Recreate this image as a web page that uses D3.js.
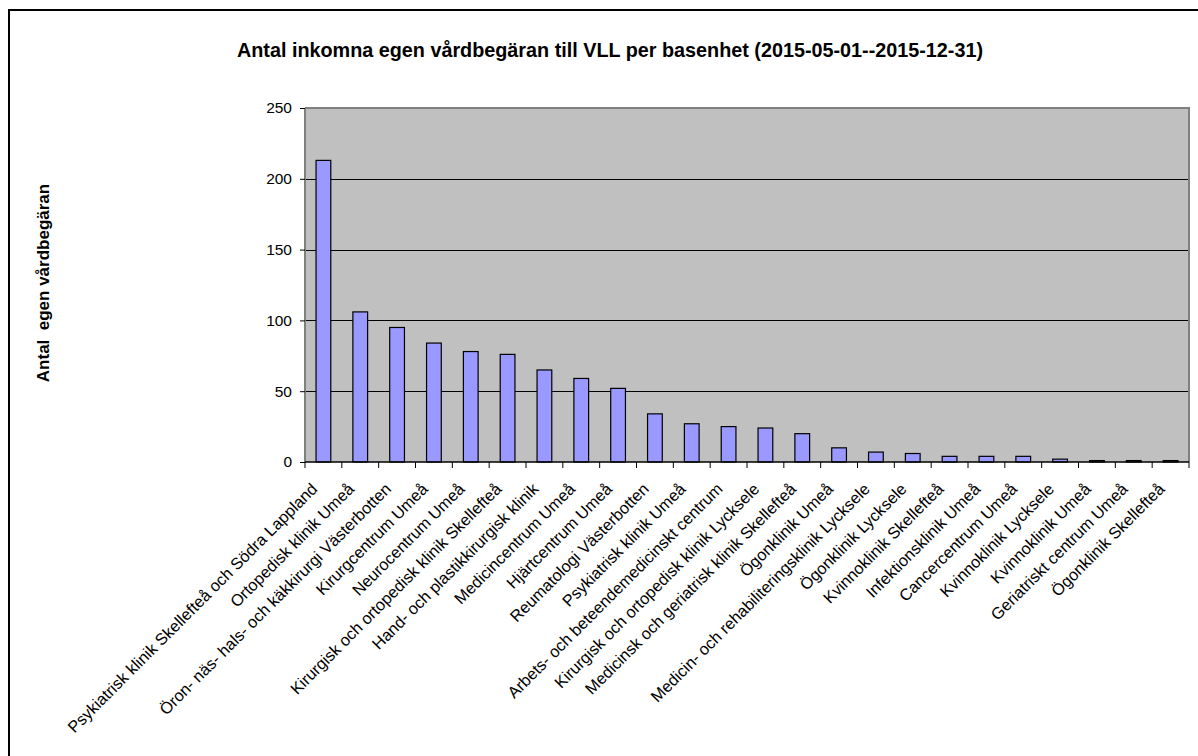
<!DOCTYPE html>
<html>
<head>
<meta charset="utf-8">
<script src="https://cdn.jsdelivr.net/npm/d3@7"></script>
<style>
  html, body { margin: 0; padding: 0; background: #fff; }
  svg { display: block; font-family: "Liberation Sans", Arial, sans-serif; }
</style>
</head>
<body>
<svg id="chart" width="1198" height="756"></svg>
<script>
// Basenheter, sorted by number of incoming requests
const categories = [
  "Psykiatrisk klinik Skellefteå och Södra Lappland",
  "Ortopedisk klinik Umeå",
  "Öron- näs- hals- och käkkirurgi Västerbotten",
  "Kirurgcentrum Umeå",
  "Neurocentrum Umeå",
  "Kirurgisk och ortopedisk klinik Skellefteå",
  "Hand- och plastikkirurgisk klinik",
  "Medicincentrum Umeå",
  "Hjärtcentrum Umeå",
  "Reumatologi Västerbotten",
  "Psykiatrisk klinik Umeå",
  "Arbets- och beteendemedicinskt centrum",
  "Kirurgisk och ortopedisk klinik Lycksele",
  "Medicinsk och geriatrisk klinik Skellefteå",
  "Ögonklinik Umeå",
  "Medicin- och rehabiliteringsklinik Lycksele",
  "Ögonklinik Lycksele",
  "Kvinnoklinik Skellefteå",
  "Infektionsklinik Umeå",
  "Cancercentrum Umeå",
  "Kvinnoklinik Lycksele",
  "Kvinnoklinik Umeå",
  "Geriatriskt centrum Umeå",
  "Ögonklinik Skellefteå"
];
const counts = [213, 106, 95, 84, 78, 76, 65, 59, 52, 34, 27, 25, 24, 20, 10, 7, 6, 4, 4, 4, 2, 1, 1, 1];
const yTicks = [0, 50, 100, 150, 200, 250];

const titleText = "Antal inkomna egen vårdbegäran till VLL per basenhet (2015-05-01--2015-12-31)";
const yTitleText = "Antal  egen vårdbegäran";

const svg = d3.select("#chart");
const plot = { left: 305, top: 108, right: 1189, bottom: 462 };

// outer chart frame
svg.append("rect")
  .attr("x", 9).attr("y", 10)
  .attr("width", 1220).attr("height", 800)
  .attr("fill", "#fff").attr("stroke", "#000").attr("stroke-width", 2);

const x = d3.scaleBand().domain(categories).range([plot.left, plot.right]).paddingInner(0).paddingOuter(0);
const y = d3.scaleLinear().domain([0, 250]).range([plot.bottom, plot.top]);

// plot background
svg.append("rect")
  .attr("x", plot.left).attr("y", plot.top)
  .attr("width", plot.right - plot.left).attr("height", plot.bottom - plot.top)
  .attr("fill", "#c0c0c0");

// gridlines
svg.append("g")
  .selectAll("line")
  .data(yTicks.filter(t => t > 0 && t < 250))
  .join("line")
  .attr("x1", plot.left).attr("x2", plot.right)
  .attr("y1", d => Math.round(y(d)) + 0.5).attr("y2", d => Math.round(y(d)) + 0.5)
  .attr("stroke", "#000").attr("stroke-width", 1);

// plot border (top and right)
svg.append("path")
  .attr("d", `M${plot.left},${plot.top}H${plot.right}V${plot.bottom}`)
  .attr("fill", "none").attr("stroke", "#808080").attr("stroke-width", 2);

// bars: 40% of each band, centred
const barW = x.bandwidth() / 2.5;
svg.append("g")
  .selectAll("rect")
  .data(categories.map((c, i) => ({ c, v: counts[i] })))
  .join("rect")
  .attr("x", d => x(d.c) + (x.bandwidth() - barW) / 2)
  .attr("y", d => y(d.v))
  .attr("width", barW)
  .attr("height", d => y(0) - y(d.v))
  .attr("fill", "#9999ff")
  .attr("stroke", "#000")
  .attr("stroke-width", 1.2);

// y axis
const yAxis = d3.axisLeft(y).tickValues(yTicks).tickSize(5).tickPadding(8).tickFormat(d3.format("d"));
const gy = svg.append("g").attr("transform", `translate(${plot.left},0)`).call(yAxis);
gy.select(".domain").attr("stroke", "#808080").attr("stroke-width", 2).attr("d", `M0,${plot.top}V${plot.bottom}`);
gy.selectAll(".tick line").attr("stroke", "#000");
gy.selectAll(".tick text").attr("font-size", 15.5).attr("fill", "#000").attr("font-family", "Liberation Sans, Arial, sans-serif");

// x axis: ticks between categories
const xAxis = d3.axisBottom(x).tickSize(0).tickFormat("");
const gx = svg.append("g").attr("transform", `translate(0,${plot.bottom})`).call(xAxis);
gx.select(".domain").attr("stroke", "#000").attr("stroke-width", 1.5).attr("d", `M${plot.left},0H${plot.right}`);
const boundaries = categories.map(c => x(c)).concat([plot.right]);
gx.selectAll(".sep")
  .data(boundaries)
  .join("line")
  .attr("class", "sep")
  .attr("x1", d => d).attr("x2", d => d)
  .attr("y1", 0).attr("y2", 6)
  .attr("stroke", "#000").attr("stroke-width", 1);

// rotated category labels
svg.append("g")
  .selectAll("text")
  .data(categories)
  .join("text")
  .attr("transform", d => `translate(${x(d) + x.bandwidth() / 2 - 5},${plot.bottom + 28}) rotate(-45)`)
  .attr("text-anchor", "end")
  .attr("font-size", 16.3)
  .attr("fill", "#000")
  .text(d => d);

// title
svg.append("text")
  .attr("x", 610).attr("y", 57)
  .attr("text-anchor", "middle")
  .attr("font-size", 19.8)
  .attr("font-weight", "bold")
  .text(titleText);

// y axis title
svg.append("text")
  .attr("transform", `translate(49,283) rotate(-90)`)
  .attr("text-anchor", "middle")
  .attr("font-size", 17)
  .attr("font-weight", "bold")
  .style("white-space", "pre")
  .text(yTitleText);
</script>
</body>
</html>
